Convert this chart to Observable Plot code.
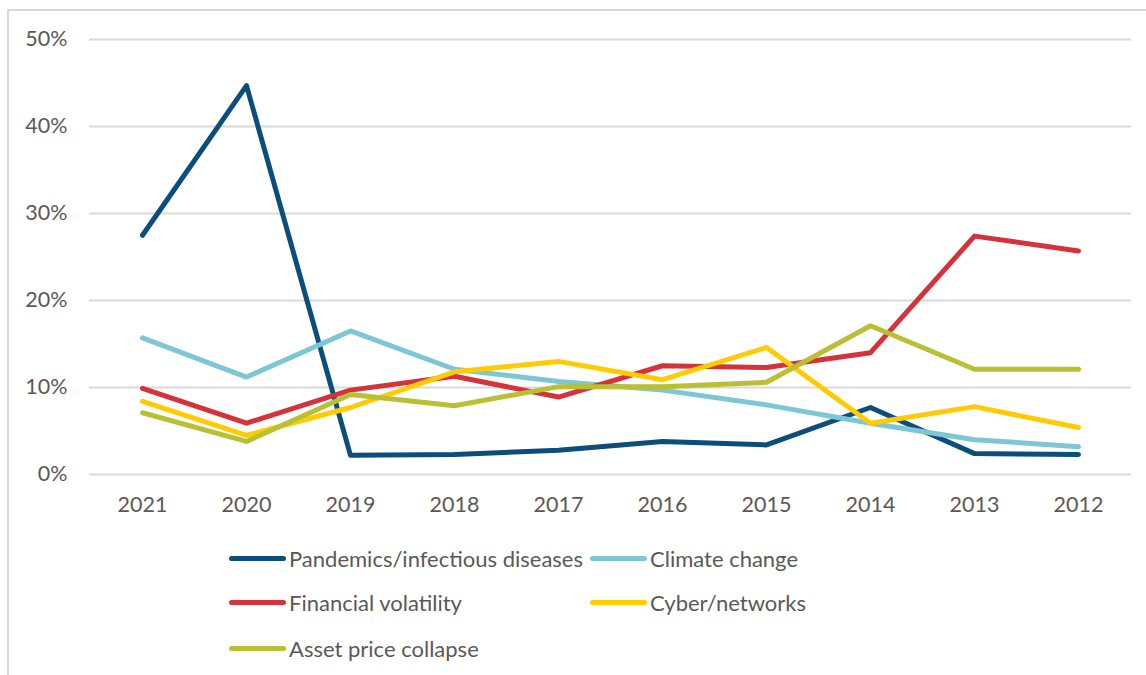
<!DOCTYPE html>
<html>
<head>
<meta charset="utf-8">
<script src="https://cdn.jsdelivr.net/npm/d3@7"></script>
<script src="https://cdn.jsdelivr.net/npm/@observablehq/plot@0.6"></script>
<style>
  html, body { margin: 0; padding: 0; background: #fff; }
  #wrap { position: relative; width: 1146px; height: 675px; overflow: hidden; font-family: Lato, "Open Sans", sans-serif; color: #595959; }
  #frame { position: absolute; left: 7px; top: 9px; width: 1200px; height: 700px; border-left: 2px solid #d9d9d9; border-top: 2px solid #d9d9d9; box-sizing: border-box; }
  #chart { position: absolute; left: 0; top: 0; }
  .item { position: absolute; display: flex; align-items: center; font-size: 22px; white-space: nowrap; }
  .sw { width: 57px; height: 5px; border-radius: 3px; margin-right: 3px; }
</style>
</head>
<body>
<div id="wrap"><div id="frame"></div><div id="chart"></div></div>
<script>
const years = ["2021","2020","2019","2018","2017","2016","2015","2014","2013","2012"];
const seriesNames = ["Pandemics/infectious diseases","Climate change","Financial volatility","Cyber/networks","Asset price collapse"];
const seriesColors = ["#0b4e7c","#7cc6d6","#d4333b","#ffcb05","#b9c033"];
const pandemics = [27.5, 44.7, 2.2, 2.3, 2.8, 3.8, 3.4, 7.7, 2.4, 2.3];
const climate   = [15.7, 11.2, 16.5, 12.1, 10.7, 9.7, 8.0, 5.9, 4.0, 3.2];
const financial = [9.9, 5.9, 9.7, 11.3, 8.9, 12.5, 12.3, 14.0, 27.4, 25.7];
const cyber     = [8.4, 4.5, 7.7, 11.8, 13.0, 10.9, 14.6, 5.9, 7.8, 5.4];
const asset     = [7.1, 3.8, 9.2, 7.9, 10.1, 10.1, 10.6, 17.1, 12.1, 12.1];
const yTicks = [0, 0.1, 0.2, 0.3, 0.4, 0.5];

const seriesValues = [pandemics, climate, financial, cyber, asset];
const rows = [];
seriesNames.forEach((name, i) => {
  years.forEach((yr, j) => rows.push({series: name, year: yr, value: seriesValues[i][j] / 100}));
});

const plot = Plot.plot({
  width: 1146,
  height: 530,
  marginLeft: 89,
  marginRight: 15,
  marginTop: 39,
  marginBottom: 56,
  style: {fontFamily: "Lato, 'Open Sans', sans-serif", fontSize: "21px", color: "#595959", background: "transparent", overflow: "visible"},
  x: {type: "point", domain: years, padding: 0.5, label: null, tickSize: 0, tickPadding: 22},
  y: {domain: [0, 0.5], ticks: yTicks, tickFormat: d3.format(".0%"), label: null, tickSize: 0, tickPadding: 22},
  color: {domain: seriesNames, range: seriesColors},
  marks: [
    Plot.gridY(yTicks, {stroke: "#d9d9d9", strokeOpacity: 1, strokeWidth: 2}),
    Plot.axisX({tickSize: 0, tickPadding: 22, fontSize: 21.5, fill: "#595959"}),
    Plot.axisY({ticks: yTicks, tickFormat: d3.format(".0%"), tickSize: 0, tickPadding: 22, fontSize: 21.5, fill: "#595959"}),
    Plot.line(rows, {x: "year", y: "value", z: "series", stroke: "series", strokeWidth: 5, strokeLinejoin: "round", strokeLinecap: "round"})
  ]
});
document.getElementById("chart").appendChild(plot);

// Legend (HTML below the plot)
const legendPos = [[229, 558], [590, 558], [229, 602], [590, 602], [229, 648]];
const wrap = document.getElementById("wrap");
seriesNames.forEach((name, i) => {
  const it = document.createElement("div");
  it.className = "item";
  it.style.left = legendPos[i][0] + "px";
  it.style.top = (legendPos[i][1] - 14) + "px";
  it.style.height = "28px";
  const sw = document.createElement("div");
  sw.className = "sw";
  sw.style.background = seriesColors[i];
  const tx = document.createElement("span");
  tx.textContent = name;
  it.appendChild(sw); it.appendChild(tx);
  wrap.appendChild(it);
});
</script>
</body>
</html>
